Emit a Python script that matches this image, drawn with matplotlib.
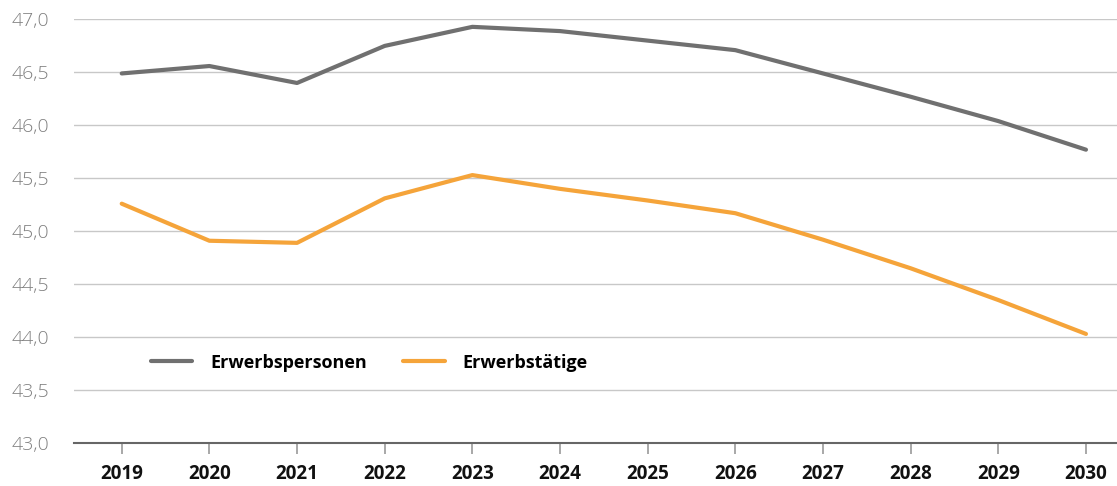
import numpy as np
import matplotlib
matplotlib.use("Agg")
import matplotlib.pyplot as plt

plt.rcParams['font.family'] = ['Open Sans', 'DejaVu Sans']

years = [2019, 2020, 2021, 2022, 2023, 2024, 2025, 2026, 2027, 2028, 2029, 2030]
erwerbspersonen = [46.49, 46.56, 46.40, 46.75, 46.93, 46.89, 46.80, 46.71, 46.49, 46.27, 46.04, 45.77]
erwerbstaetige = [45.26, 44.91, 44.89, 45.31, 45.53, 45.40, 45.29, 45.17, 44.92, 44.65, 44.35, 44.03]
yticks = [43.0, 43.5, 44.0, 44.5, 45.0, 45.5, 46.0, 46.5, 47.0]

fig = plt.figure(figsize=(11.17, 4.86), dpi=100)
ax = fig.add_axes([0.0662, 0.0885, 0.9338, 0.8715])

ax.plot(years, erwerbspersonen, color='#707070', lw=3, label='Erwerbspersonen', solid_capstyle='round')
ax.plot(years, erwerbstaetige, color='#F5A43A', lw=3, label='Erwerbstätige', solid_capstyle='round')

ax.set_ylim(43, 47)
ax.set_xlim(2018.455, 2030.354)
ax.set_yticks(yticks)
ax.set_yticklabels([f"{v:.1f}".replace('.', ',') for v in yticks], color='#808080',
                   fontsize=14, fontweight='light')
ax.set_xticks(years)
ax.set_xticklabels([str(y) for y in years], fontsize=13.5, fontweight='bold', color='#111111')

ax.grid(axis='y', color='#c8c8c8', lw=1)
ax.set_axisbelow(True)
for s in ['top', 'right', 'left']:
    ax.spines[s].set_visible(False)
ax.spines['bottom'].set_color('#666666')
ax.spines['bottom'].set_linewidth(1.5)
ax.tick_params(axis='y', length=0, pad=18)
ax.tick_params(axis='x', length=8, width=1.2, color='#999999', pad=7)

leg = ax.legend(loc='center left', bbox_to_anchor=(0.058, 0.19), ncol=2, frameon=False,
                handlelength=2.3, handletextpad=1.0, columnspacing=2.0,
                prop={'weight': 'bold', 'size': 13})

fig.savefig('out.png', dpi=100)
